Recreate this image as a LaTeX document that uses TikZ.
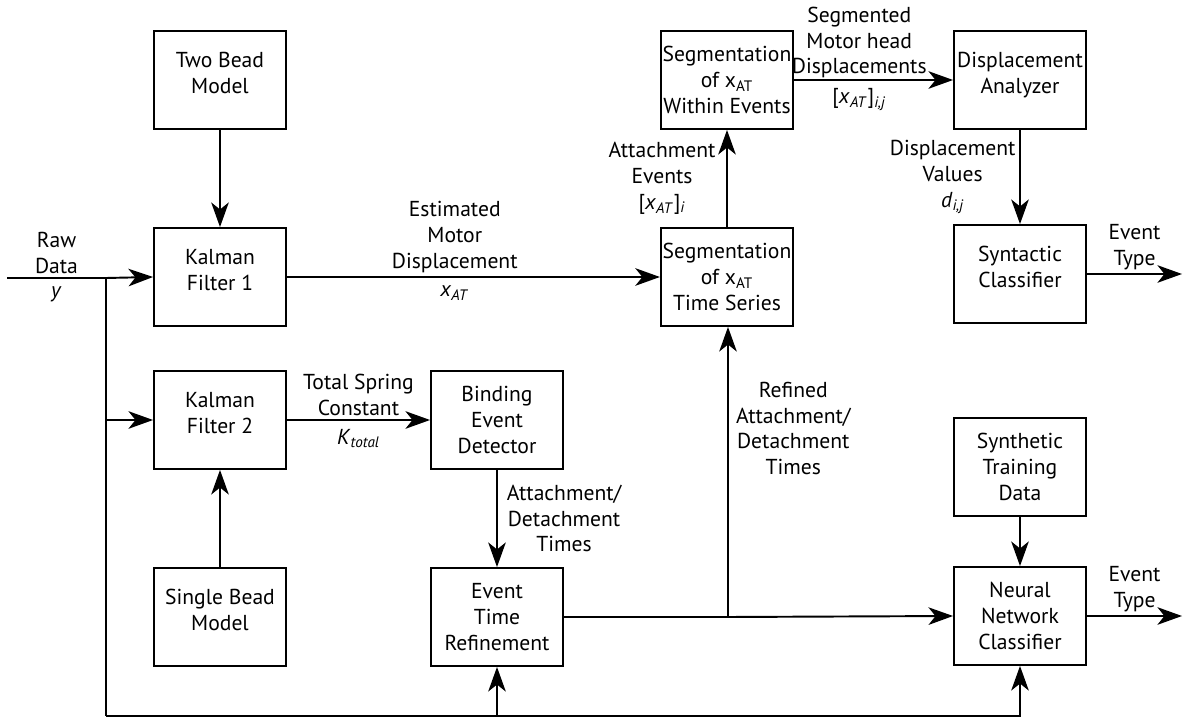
\documentclass[tikz,border=0pt]{standalone}
\usepackage{fontspec}
\setmainfont{PT Sans}
\usetikzlibrary{arrows.meta, positioning}
\newcommand{\lblfont}{\fontsize{12.3}{14.7}\selectfont}
\newcommand{\xat}{x\textsubscript{AT}}
\newcommand{\ixat}{\textit{x}\textsubscript{\textit{AT}}}
\tikzset{
  blockbox/.style={draw, line width=1.1pt, minimum width=2.64cm, minimum height=1.96cm, align=center, inner sep=1pt},
  twoline/.style={text depth=8pt}
}
\tikzset{
  lbl/.style={align=center, inner sep=2pt},
  lblbelow/.style={lbl, below, inner sep=4.5pt}
}

\begin{document}
\begin{tikzpicture}[x=0.02cm, y=-0.02cm, font=\lblfont, line width=1.1pt,
    >={Stealth[length=14pt, width=10pt, inset=4pt]}]
  \useasboundingbox (0,0) rectangle (1183,719);

  % blocks
  \node[blockbox, twoline] (twobead) at (220,80) {Two Bead\\Model};
  \node[blockbox, twoline] (kf1) at (220,277) {Kalman\\Filter 1};
  \node[blockbox, twoline] (kf2) at (220,420) {Kalman\\Filter 2};
  \node[blockbox, twoline] (onebead) at (220,617) {Single Bead\\Model};
  \node[blockbox] (bed) at (497,420) {Binding\\Event\\Detector};
  \node[blockbox] (etr) at (497,617) {Event\\Time\\Refinement};
  \node[blockbox] (segts) at (727,277) {Segmentation\\of \xat\\Time Series};
  \node[blockbox] (segwe) at (727,80) {Segmentation\\of \xat\\Within Events};
  \node[blockbox, twoline] (danal) at (1020,80) {Displacement\\Analyzer};
  \node[blockbox, twoline] (syn) at (1020,274) {Syntactic\\Classifier};
  \node[blockbox] (synth) at (1020,467) {Synthetic\\Training\\Data};
  \node[blockbox] (nnc) at (1020,616) {Neural\\Network\\Classifier};

  \coordinate (rawin) at (7,278);
  \coordinate (split) at (106,278);
  \coordinate (bl) at (106,716);
  \coordinate (tap) at (728,617);
  \coordinate (synout) at (1182,274);
  \coordinate (nncout) at (1182,616);

  % raw data in, split to both filters and the bottom bus
  \draw (rawin) -- node[lbl, above] {Raw\\Data} node[lblbelow] {\textit{y}} (split);
  \draw[->] (split) -- (kf1.west);
  \draw (split) -- (bl);
  \draw[->] (split |- kf2.west) -- (kf2.west);
  \draw[->] (bl) -| (etr.south);
  \draw[->] (bl) -| (nnc.south);

  % models into the filters
  \draw[->] (twobead) -- (kf1);
  \draw[->] (onebead) -- (kf2);

  % upper chain
  \draw[->] (kf1) -- node[lbl, above, pos=0.45] {Estimated\\Motor\\Displacement}
    node[lblbelow, pos=0.45] {\ixat} (segts);
  \draw[->] (segts) -- node[lbl, left, inner sep=6pt] {Attachment\\Events\\{[}\ixat{]}\textsubscript{\textit{i}}} (segwe);
  \draw[->] (segwe) -- node[lbl, above, pos=0.41, inner sep=0.5pt] {Segmented\\Motor head\\Displacements}
    node[lblbelow, pos=0.41] {{[}\ixat{]}\textsubscript{\textit{i,j}}} (danal);
  \draw[->] (danal) -- node[lbl, left] {Displacement\\Values\\\textit{d}\textsubscript{\textit{i,j}}} (syn);
  \draw[->] (syn) -- node[lbl, above] {Event\\Type} (synout);

  % lower chain
  \draw[->] (kf2) -- node[lbl, above] {Total Spring\\Constant}
    node[lblbelow] {\textit{K}\textsubscript{\textit{total}}} (bed);
  \draw[->] (bed) -- node[lbl, right, inner sep=5pt] {Attachment/\\Detachment\\Times} (etr);
  \draw (etr.east) -- (tap);
  \draw[->] (tap) -- node[lbl, right, pos=0.65, inner sep=4pt] {Refined\\Attachment/\\Detachment\\Times} (tap |- segts.south);
  \draw[->] (tap) -- (nnc.west);
  \draw[->] (synth) -- (nnc);
  \draw[->] (nnc) -- node[lbl, above] {Event\\Type} (nncout);
\end{tikzpicture}
\end{document}
